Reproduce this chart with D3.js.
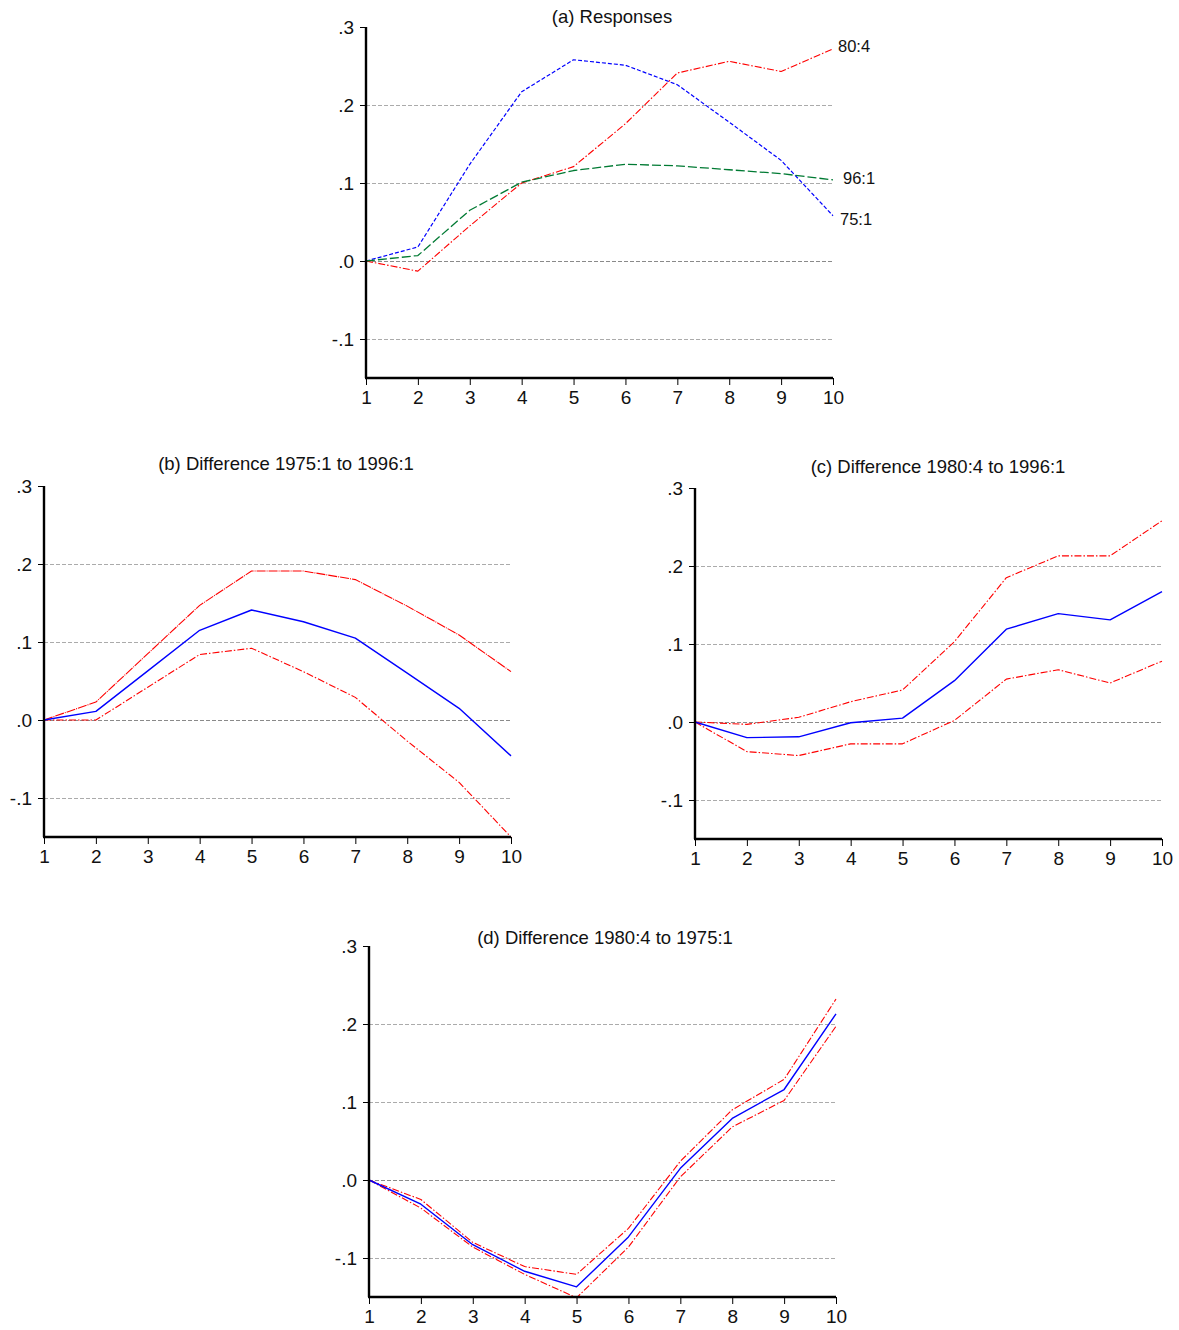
<!DOCTYPE html>
<html>
<head>
<meta charset="utf-8">
<script src="https://cdn.jsdelivr.net/npm/d3@7"></script>
<style>
  body { margin: 0; background: #fff; }
  svg { display: block; font-family: "Liberation Sans", Arial, sans-serif; }
</style>
</head>
<body>
<svg id="chart" width="1179" height="1330"></svg>
<script>
// ---- data ----
const steps = [1, 2, 3, 4, 5, 6, 7, 8, 9, 10];
const yTicks = [0.3, 0.2, 0.1, 0.0, -0.1];
const yTickLabels = [".3", ".2", ".1", ".0", "-.1"];
const gridValues = [0.2, 0.1, 0.0, -0.1];

// (a) Responses
const resp75 = [0, 0.018, 0.124, 0.217, 0.258, 0.251, 0.226, 0.178, 0.129, 0.058];
const resp80 = [0, -0.013, 0.045, 0.100, 0.121, 0.176, 0.241, 0.256, 0.243, 0.272];
const resp96 = [0, 0.007, 0.065, 0.101, 0.116, 0.124, 0.122, 0.117, 0.112, 0.104];
const respLabels = ["75:1", "80:4", "96:1"];

// (b) Difference 1975:1 to 1996:1
const diffB = [0, 0.011, 0.063, 0.115, 0.141, 0.126, 0.105, 0.060, 0.015, -0.046];
const diffBUp = [0, 0.023, 0.085, 0.147, 0.191, 0.191, 0.180, 0.146, 0.109, 0.062];
const diffBLo = [0, 0.000, 0.042, 0.084, 0.092, 0.062, 0.029, -0.027, -0.080, -0.150];

// (c) Difference 1980:4 to 1996:1
const diffC = [0, -0.020, -0.019, -0.001, 0.005, 0.053, 0.119, 0.139, 0.131, 0.167];
const diffCUp = [0, -0.003, 0.006, 0.026, 0.041, 0.103, 0.185, 0.213, 0.213, 0.258];
const diffCLo = [0, -0.038, -0.043, -0.028, -0.028, 0.002, 0.055, 0.067, 0.050, 0.078];

// (d) Difference 1980:4 to 1975:1
const diffD = [0, -0.031, -0.083, -0.117, -0.137, -0.073, 0.015, 0.079, 0.116, 0.213];
const diffDUp = [0, -0.025, -0.080, -0.111, -0.121, -0.062, 0.024, 0.090, 0.129, 0.232];
const diffDLo = [0, -0.036, -0.086, -0.121, -0.151, -0.086, 0.004, 0.068, 0.102, 0.197];

const titles = ["(a) Responses", "(b) Difference 1975:1 to 1996:1",
                "(c) Difference 1980:4 to 1996:1", "(d) Difference 1980:4 to 1975:1"];

// ---- layout ----
const panels = [
  { title: titles[0], x0: 366, x1: 833, yTop: 27, yBot: 378, tx: 612, ty: 23,
    series: [
      { v: resp75, color: "#0000ff", dash: "4,2", w: 1.2, label: respLabels[0], lx: 840, ly: 225 },
      { v: resp80, color: "#ff0000", dash: "7,2,1.5,2", w: 1.1, label: respLabels[1], lx: 838, ly: 52 },
      { v: resp96, color: "#007a33", dash: "9,3", w: 1.3, label: respLabels[2], lx: 843, ly: 184 }
    ] },
  { title: titles[1], x0: 44, x1: 511, yTop: 486, yBot: 837, tx: 286, ty: 470,
    series: [
      { v: diffBUp, color: "#ff0000", dash: "9,1,1,1", w: 1.1 },
      { v: diffBLo, color: "#ff0000", dash: "7,2,1.5,2", w: 1.1 },
      { v: diffB, color: "#0000ff", dash: null, w: 1.4 }
    ] },
  { title: titles[2], x0: 695, x1: 1162, yTop: 488, yBot: 839, tx: 938, ty: 473,
    series: [
      { v: diffCUp, color: "#ff0000", dash: "7,2,1.5,2", w: 1.1 },
      { v: diffCLo, color: "#ff0000", dash: "7,2,1.5,2", w: 1.1 },
      { v: diffC, color: "#0000ff", dash: null, w: 1.4 }
    ] },
  { title: titles[3], x0: 369, x1: 836, yTop: 946, yBot: 1297, tx: 605, ty: 944,
    series: [
      { v: diffDUp, color: "#ff0000", dash: "7,2,1.5,2", w: 1.1 },
      { v: diffDLo, color: "#ff0000", dash: "7,2,1.5,2", w: 1.1 },
      { v: diffD, color: "#0000ff", dash: null, w: 1.4 }
    ] }
];

const svg = d3.select("#chart");
const tickFont = 19;

panels.forEach(p => {
  const x = d3.scaleLinear().domain([1, 10]).range([p.x0, p.x1]);
  const y = d3.scaleLinear().domain([-0.15, 0.3]).range([p.yBot, p.yTop]);
  const g = svg.append("g");

  // grid lines
  g.selectAll("line.grid").data(gridValues).enter().append("line")
    .attr("x1", p.x0).attr("x2", p.x1)
    .attr("y1", d => Math.round(y(d)) + 0.5).attr("y2", d => Math.round(y(d)) + 0.5)
    .attr("stroke", d => d === 0 ? "#8a8a8a" : "#ababab")
    .attr("stroke-width", 1.2)
    .attr("stroke-dasharray", "4,2");

  // title
  g.append("text").attr("x", p.tx).attr("y", p.ty)
    .attr("text-anchor", "middle").attr("font-size", 18.5).attr("fill", "#111")
    .text(p.title);

  // series
  const line = d3.line().x((d, i) => x(steps[i])).y(d => y(d));
  p.series.forEach(s => {
    const path = g.append("path").datum(s.v)
      .attr("d", line)
      .attr("fill", "none")
      .attr("stroke", s.color)
      .attr("stroke-width", s.w)
      .attr("stroke-linejoin", "round");
    if (s.dash) path.attr("stroke-dasharray", s.dash);
    if (s.label) {
      g.append("text").attr("x", s.lx).attr("y", s.ly)
        .attr("font-size", 16.5).attr("fill", "#111").text(s.label);
    }
  });

  // y axis
  const yAxis = d3.axisLeft(y).tickValues(yTicks)
    .tickFormat((d, i) => yTickLabels[i]).tickSize(6).tickPadding(6);
  const ya = g.append("g").attr("transform", `translate(${p.x0},0)`).call(yAxis);
  ya.select(".domain").attr("stroke", "#000").attr("stroke-width", 2.4)
    .attr("d", `M0,${p.yTop}V${p.yBot}`);
  ya.selectAll(".tick line").attr("stroke", "#000").attr("stroke-width", 1);
  ya.selectAll(".tick text").attr("font-size", tickFont).attr("fill", "#111")
    .attr("font-family", "Liberation Sans, Arial, sans-serif");

  // x axis
  const xAxis = d3.axisBottom(x).tickValues(steps)
    .tickFormat(d3.format("d")).tickSize(7).tickPadding(5.5);
  const xa = g.append("g").attr("transform", `translate(0,${p.yBot})`).call(xAxis);
  xa.select(".domain").attr("stroke", "#000").attr("stroke-width", 2.4)
    .attr("d", `M${p.x0 - 1},0H${p.x1}`);
  xa.selectAll(".tick line").attr("stroke", "#000").attr("stroke-width", 1);
  xa.selectAll(".tick text").attr("font-size", tickFont).attr("fill", "#111")
    .attr("font-family", "Liberation Sans, Arial, sans-serif");
});
</script>
</body>
</html>
